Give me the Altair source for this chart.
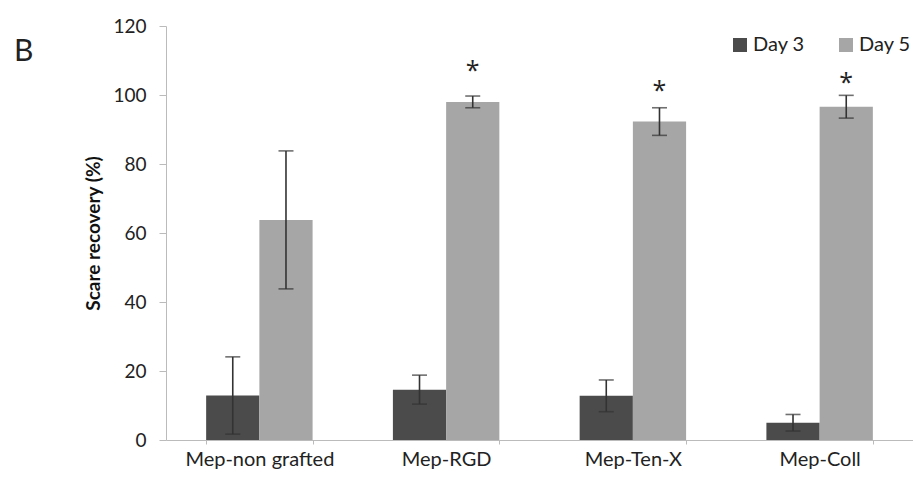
import altair as alt
import pandas as pd

groups = ["Mep-non grafted", "Mep-RGD", "Mep-Ten-X", "Mep-Coll"]
days = ["Day 3", "Day 5"]
day3 = [12.9, 14.6, 12.8, 5.0]
day3_err = [11.2, 4.2, 4.6, 2.4]
day5 = [63.8, 98.0, 92.3, 96.6]
day5_err = [20.0, 1.7, 4.0, 3.3]
stars = ["", "*", "*", "*"]
star_y = [0, 108.5, 102.7, 105.0]

rows = []
for i, g in enumerate(groups):
    rows.append(dict(group=g, day="Day 3", value=day3[i], lo=day3[i] - day3_err[i],
                     hi=day3[i] + day3_err[i], star="", sy=0))
    rows.append(dict(group=g, day="Day 5", value=day5[i], lo=day5[i] - day5_err[i],
                     hi=day5[i] + day5_err[i], star=stars[i], sy=star_y[i]))
df = pd.DataFrame(rows)

FONT = "Lato"

x = alt.X("group:N", sort=groups, title=None,
          scale=alt.Scale(paddingInner=0.43, paddingOuter=0.215),
          axis=alt.Axis(labelAngle=0, labelFontSize=20, labelColor="#222", labelFont=FONT,
                        labelPadding=5, tickBand="extent", tickSize=4, tickColor="#bbbbbb",
                        domainColor="#bbbbbb", grid=False))
xo = alt.XOffset("day:N", sort=days, scale=alt.Scale(paddingInner=0, paddingOuter=0))

base = alt.Chart(df)

bars = base.mark_bar().encode(
    x=x, xOffset=xo,
    y=alt.Y("value:Q", scale=alt.Scale(domain=[0, 120]),
            axis=alt.Axis(values=[0, 20, 40, 60, 80, 100, 120], grid=False, title="Scare recovery (%)",
                          titleFontSize=19, titleFont=FONT, titleFontWeight="bold", titleColor="#111",
                          titleX=-73, titleY=207, titleAngle=-90, titleAlign="center", titleBaseline="middle",
                          labelFontSize=19, labelFont=FONT, labelColor="#222", labelPadding=13,
                          tickSize=7, tickColor="#bbbbbb", domainColor="#bbbbbb")),
    color=alt.Color("day:N", sort=days,
                    scale=alt.Scale(domain=days, range=["#4b4b4b", "#a6a6a6"]),
                    legend=alt.Legend(title=None, orient="none", legendX=564, legendY=9,
                                      direction="horizontal", symbolType="square", symbolSize=196,
                                      symbolStrokeWidth=0, labelFontSize=20, labelFont=FONT,
                                      labelColor="#222", columnPadding=31, padding=0, labelOffset=3)),
)

rules = base.mark_rule(color="#333333", strokeWidth=1.6).encode(
    x=alt.X("group:N", sort=groups), xOffset=xo, y="lo:Q", y2="hi:Q")
caps_hi = base.mark_tick(color="#333333", thickness=1.6, size=15, orient="horizontal").encode(
    x=alt.X("group:N", sort=groups), xOffset=xo, y="hi:Q")
caps_lo = base.mark_tick(color="#333333", thickness=1.6, size=15, orient="horizontal").encode(
    x=alt.X("group:N", sort=groups), xOffset=xo, y="lo:Q")

star_text = base.transform_filter(alt.datum.star != "").mark_text(
    fontSize=25, font="Open Sans", color="#222", baseline="alphabetic", dy=13).encode(
    x=alt.X("group:N", sort=groups), xOffset=xo, y="sy:Q", text="star:N")

letter = alt.Chart(pd.DataFrame({"t": ["B"]})).mark_text(
    fontSize=30, font=FONT, color="#222", align="left", baseline="middle").encode(
    x=alt.value(-152), y=alt.value(26), text="t:N")

chart = alt.layer(bars, rules, caps_hi, caps_lo, star_text, letter).properties(
    width=747, height=414,
    autosize=alt.AutoSizeParams(type="none"),
    padding={"left": 158, "top": 18, "right": 0, "bottom": 36},
).configure_view(stroke=None)

chart.save("out.html", embed_options={"renderer": "svg", "actions": False})
